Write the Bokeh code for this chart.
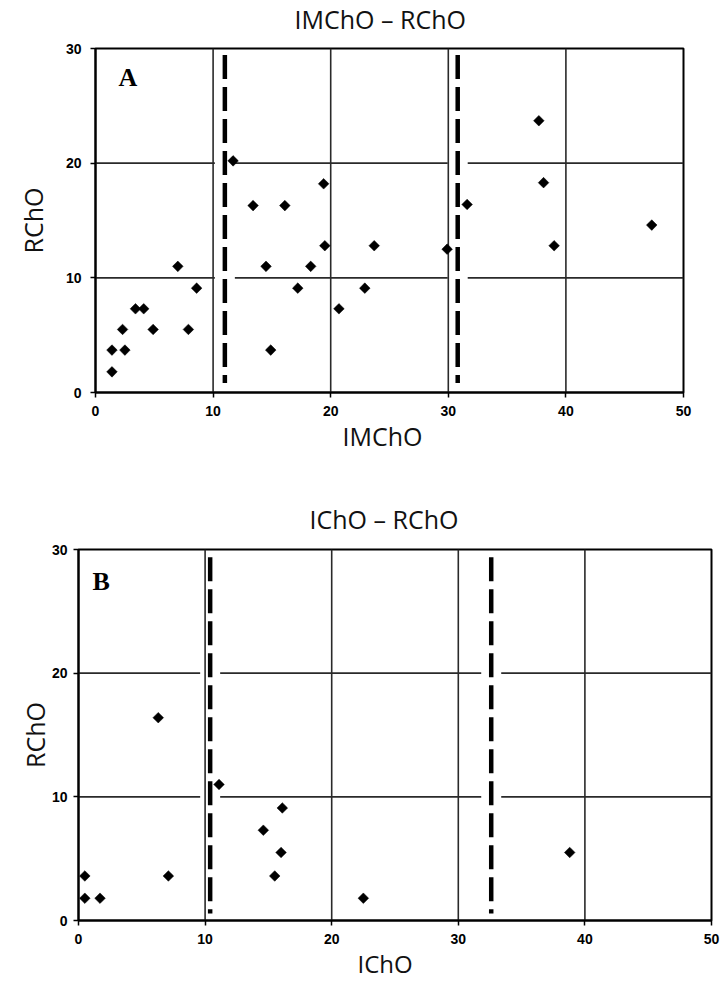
import math
from bokeh.plotting import figure
from bokeh.models import Range1d, Label, FixedTicker, Title
from bokeh.embed import file_html
from bokeh.resources import INLINE

# ---------------- data ----------------
A_x = [1.4, 1.4, 2.5, 2.3, 3.4, 4.1, 4.9, 7.0, 7.9, 8.6,
       11.7, 13.4, 16.1, 14.5, 14.9, 17.2, 18.3, 19.4, 19.5, 20.7,
       22.9, 23.7, 29.9, 31.6, 37.7, 38.1, 39.0, 47.3]
A_y = [1.8, 3.7, 3.7, 5.5, 7.3, 7.3, 5.5, 11.0, 5.5, 9.1,
       20.2, 16.3, 16.3, 11.0, 3.7, 9.1, 11.0, 18.2, 12.8, 7.3,
       9.1, 12.8, 12.5, 16.4, 23.7, 18.3, 12.8, 14.6]
A_cuts = [11.0, 30.8]

B_x = [0.5, 0.5, 1.7, 7.1, 6.3, 11.1, 16.1, 14.6, 16.0, 15.5, 22.5, 38.8]
B_y = [3.6, 1.8, 1.8, 3.6, 16.4, 11.0, 9.1, 7.3, 5.5, 3.6, 1.8, 5.5]
B_cuts = [10.4, 32.6]

x_ticks = [0, 10, 20, 30, 40, 50]
y_ticks = [0, 10, 20, 30]
grid_x = [10, 20, 30, 40]
grid_y = [10, 20]

titles = ["IMChO \u2013 RChO", "IChO \u2013 RChO"]
x_labels = ["IMChO", "IChO"]
y_label = "RChO"
letters = ["A", "B"]

LABEL_FONT = "Open Sans"
TICK_FONT = "Liberation Sans"
W = 722


def make_panel(xs, ys, cuts, height, border_top, border_bottom, border_left,
               border_right, tick_size, y_standoff_tick, x_standoff_tick,
               ylab_standoff, gap_px, dash_span, title, title_offset,
               title_standoff, xlab, xlab_offset, xlab_size, xlab_standoff,
               letter, letter_pos, margin=None):
    kw = {}
    if margin is not None:
        kw["margin"] = margin
    p = figure(width=W, height=height, output_backend="svg",
               toolbar_location=None,
               x_range=Range1d(0, 50), y_range=Range1d(0, 30),
               min_border_top=border_top, min_border_bottom=border_bottom,
               min_border_left=border_left, min_border_right=border_right,
               **kw)
    p.background_fill_color = "white"
    p.border_fill_color = "white"
    p.outline_line_color = "black"
    p.outline_line_width = 2
    p.xgrid.visible = False
    p.ygrid.visible = False

    for ax in (p.xaxis[0], p.yaxis[0]):
        ax.axis_line_color = "black"
        ax.axis_line_width = 2
        ax.major_tick_line_color = "black"
        ax.major_tick_line_width = 1.5
        ax.major_tick_out = 5
        ax.major_tick_in = 0
        ax.minor_tick_line_color = None
        ax.major_label_text_font = TICK_FONT
        ax.major_label_text_font_style = "bold"
        ax.major_label_text_font_size = tick_size
        ax.major_label_text_color = "black"
    p.xaxis[0].ticker = FixedTicker(ticks=x_ticks)
    p.yaxis[0].ticker = FixedTicker(ticks=y_ticks)
    p.xaxis[0].major_label_standoff = x_standoff_tick
    p.yaxis[0].major_label_standoff = y_standoff_tick
    p.yaxis[0].axis_label = y_label
    p.yaxis[0].axis_label_text_font = LABEL_FONT
    p.yaxis[0].axis_label_text_font_style = "normal"
    p.yaxis[0].axis_label_text_font_size = "25px"
    p.yaxis[0].axis_label_text_color = "#111111"
    p.yaxis[0].axis_label_standoff = ylab_standoff

    # grid lines: horizontal ones interrupted at the cut-off lines
    px_per_unit = (W - border_left - border_right) / 50.0
    gap = gap_px / px_per_unit
    hx0, hx1, hy = [], [], []
    for gy in grid_y:
        edges = [0.0]
        for c in cuts:
            edges += [c - gap, c + gap]
        edges.append(50.0)
        for a, b in zip(edges[::2], edges[1::2]):
            hx0.append(a)
            hx1.append(b)
            hy.append(gy)
    p.segment(x0=hx0, y0=hy, x1=hx1, y1=hy, line_color="#2a2a2a",
              line_width=1.6)
    p.segment(x0=grid_x, y0=[0] * len(grid_x), x1=grid_x,
              y1=[30] * len(grid_x), line_color="#2a2a2a", line_width=1.6)

    # dashed cut-off lines
    p.segment(x0=cuts, y0=[dash_span[1]] * len(cuts), x1=cuts,
              y1=[dash_span[0]] * len(cuts), line_color="black",
              line_width=4.5, line_dash="24 8")

    # points
    p.scatter(xs, ys, marker="square", angle=math.pi / 4, size=7.5,
              fill_color="black", line_color="black", line_width=0.5)

    p.add_layout(Title(text=title, align="left", offset=title_offset,
                       standoff=title_standoff, text_font=LABEL_FONT,
                       text_font_size="25px", text_font_style="normal",
                       text_color="#111111", vertical_align="bottom"),
                 "above")
    p.add_layout(Title(text=xlab, align="left", offset=xlab_offset,
                       standoff=xlab_standoff, text_font=LABEL_FONT,
                       text_font_size=xlab_size, text_font_style="normal",
                       text_color="#111111", vertical_align="top"),
                 "below")
    p.add_layout(Label(x=letter_pos[0], y=letter_pos[1], text=letter,
                       text_font="Liberation Serif", text_font_style="bold",
                       text_font_size="26px", text_align="left",
                       text_baseline="alphabetic", text_color="black"))
    return p


SHIFT = 14       # figure A starts above the page top so its title fits
H_A = 480        # page y where figure B starts
pA = make_panel(A_x, A_y, A_cuts, height=H_A + SHIFT, border_top=48 + SHIFT,
                border_bottom=H_A - 392, border_left=95, border_right=39,
                tick_size="14px", y_standoff_tick=9, x_standoff_tick=8,
                ylab_standoff=13, gap_px=10, dash_span=(0.83, 29.43),
                title=titles[0], title_offset=199, title_standoff=25,
                xlab=x_labels[0], xlab_offset=247, xlab_size="25px",
                xlab_standoff=0,
                letter=letters[0], letter_pos=(1.96, 27.5),
                margin=(-SHIFT, 0, 0, 0))

pB = make_panel(B_x, B_y, B_cuts, height=982 - H_A, border_top=549 - H_A,
                border_bottom=62, border_left=78, border_right=11,
                tick_size="14px", y_standoff_tick=6, x_standoff_tick=8,
                ylab_standoff=-3, gap_px=10, dash_span=(0.57, 29.38),
                title=titles[1], title_offset=231, title_standoff=28,
                xlab=x_labels[1], xlab_offset=279, xlab_size="24px",
                xlab_standoff=0,
                letter=letters[1], letter_pos=(1.11, 27.4))

open("out.html", "w").write(file_html([pA, pB], INLINE))
